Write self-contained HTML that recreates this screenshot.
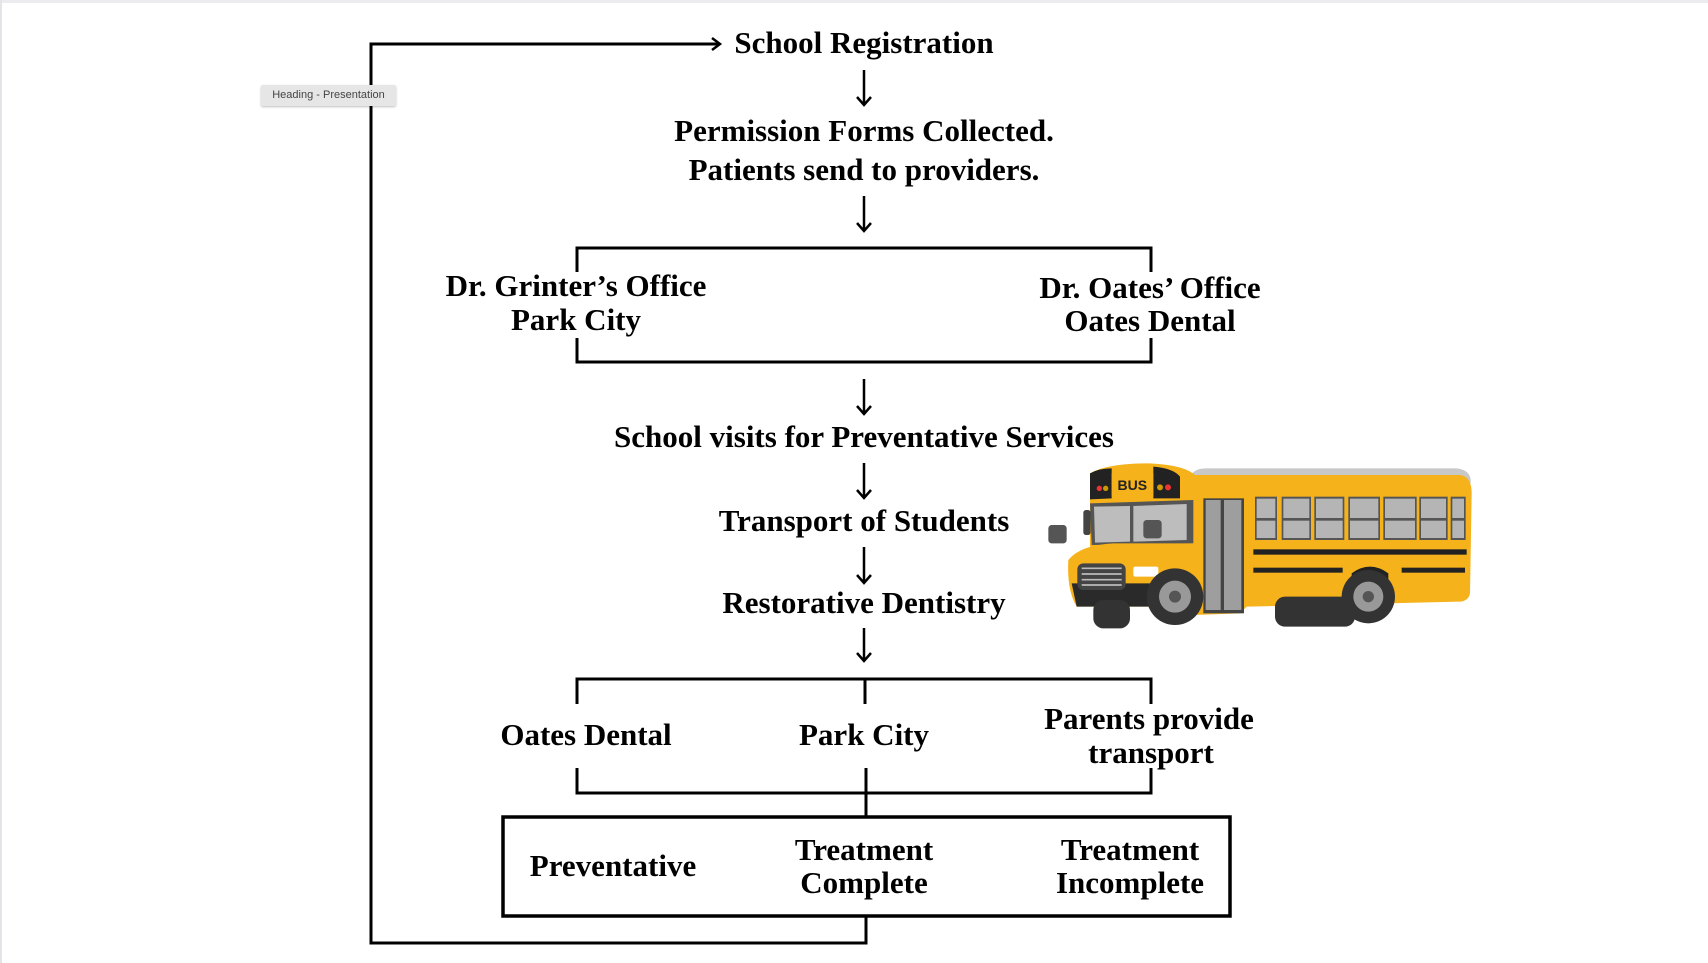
<!DOCTYPE html>
<html><head><meta charset="utf-8"><style>
html,body{margin:0;padding:0;background:#fff;}
body{width:1708px;height:963px;position:relative;overflow:hidden;font-family:"Liberation Serif",serif;font-weight:bold;color:#000;}
.t{position:absolute;transform:translate(-50%,-50%);white-space:nowrap;font-size:31px;text-align:center;line-height:34px;}
.tag{position:absolute;left:261px;top:85px;width:135px;height:21px;background:#e6e6e6;border-radius:2px;box-shadow:0 1px 2px rgba(0,0,0,.25);font:11px "Liberation Sans",sans-serif;color:#444;line-height:21px;text-align:center;}
</style></head><body>
<div style="position:absolute;left:0;top:0;width:1708px;height:3px;background:#ececf0"></div>
<div style="position:absolute;left:0;top:0;width:2px;height:963px;background:#e4e4e8"></div>
<svg width="1708" height="963" style="position:absolute;left:0;top:0" fill="none" stroke="#000" stroke-width="3">
<polyline points="866,916 866,943 371,943 371,44 720,44"/>
<path d="M712,38 L720,44 L712,50" stroke-width="2.5"/>
<g stroke-width="2.5">
<path d="M864,70 V105 M857,97 L864,105 L871,97"/>
<path d="M864,196 V231 M857,223 L864,231 L871,223"/>
<path d="M864,379 V414 M857,406 L864,414 L871,406"/>
<path d="M864,463 V498 M857,490 L864,498 L871,490"/>
<path d="M864,547 V583 M857,575 L864,583 L871,575"/>
<path d="M864,628 V661 M857,653 L864,661 L871,653"/>
</g>
<polyline points="577,272 577,248 1151,248 1151,272"/>
<polyline points="577,338 577,362 1151,362 1151,338"/>
<polyline points="577,704 577,679 1151,679 1151,704"/>
<line x1="865" y1="679" x2="865" y2="704"/>
<polyline points="577,768 577,793 1151,793 1151,768"/>
<line x1="866" y1="768" x2="866" y2="817"/>
<rect x="503" y="817" width="727" height="99" stroke-width="3.5"/>
</svg>
<div class="tag">Heading - Presentation</div>
<div class="t" style="left:864px;top:43px">School Registration</div>
<div class="t" style="left:864px;top:131px">Permission Forms Collected.</div>
<div class="t" style="left:864px;top:170px">Patients send to providers.</div>
<div class="t" style="left:576px;top:286px">Dr. Grinter’s Office</div>
<div class="t" style="left:576px;top:320px">Park City</div>
<div class="t" style="left:1150px;top:288px">Dr. Oates’ Office</div>
<div class="t" style="left:1150px;top:321px">Oates Dental</div>
<div class="t" style="left:864px;top:437px">School visits for Preventative Services</div>
<div class="t" style="left:864px;top:521px">Transport of Students</div>
<div class="t" style="left:864px;top:603px">Restorative Dentistry</div>
<div class="t" style="left:586px;top:735px">Oates Dental</div>
<div class="t" style="left:864px;top:735px">Park City</div>
<div class="t" style="left:1149px;top:719px">Parents provide</div>
<div class="t" style="left:1151px;top:753px">transport</div>
<div class="t" style="left:613px;top:866px">Preventative</div>
<div class="t" style="left:864px;top:850px">Treatment</div>
<div class="t" style="left:864px;top:883px">Complete</div>
<div class="t" style="left:1130px;top:850px">Treatment</div>
<div class="t" style="left:1130px;top:883px">Incomplete</div>
<svg style="position:absolute;left:1040px;top:450px" width="450" height="200" viewBox="0 0 1350 600">
<path d="M450,80 Q460,55 500,55 L1250,55 Q1290,60 1292,90 L1292,100 L460,100Z" fill="#c8c8c8"/>
<path d="M440,75 L1260,75 Q1295,80 1295,130 L1290,430 Q1285,455 1255,455 L620,470 L600,490 L460,495Z" fill="#f5b21b"/>
<path d="M150,70 Q200,40 330,40 Q440,45 470,80 L470,300 L150,290Z" fill="#f5b21b"/>
<path d="M150,70 Q175,55 215,55 L215,145 L150,148Z M340,50 Q400,55 420,80 L420,145 L340,145Z" fill="#222"/>
<rect x="215" y="70" width="125" height="70" fill="#f5b21b"/>
<text x="277" y="120" font-family="Liberation Sans,sans-serif" font-weight="bold" font-size="42" fill="#222" text-anchor="middle">BUS</text>
<circle cx="178" cy="115" r="8" fill="#e33"/><circle cx="197" cy="115" r="8" fill="#c90"/>
<circle cx="360" cy="112" r="9" fill="#c90"/><circle cx="384" cy="112" r="9" fill="#e33"/>
<path d="M150,160 L460,150 L460,280 L155,285Z" fill="#555"/>
<path d="M162,170 L270,168 L270,275 L165,278Z M280,168 L440,162 L440,270 L280,275Z" fill="#bdbdbd"/>
<path d="M85,330 Q120,285 220,280 L470,280 L480,470 L110,470 Q80,420 85,330Z" fill="#f5b21b"/>
<path d="M95,400 L470,400 L470,470 L110,470Z" fill="#2a2a2a"/>
<rect x="112" y="340" width="145" height="80" rx="18" fill="#444"/>
<path d="M125,355 H245 M125,372 H245 M125,389 H245 M125,405 H245" stroke="#bbb" stroke-width="5"/>
<rect x="280" y="350" width="75" height="30" rx="6" fill="#fff"/>
<rect x="25" y="225" width="55" height="55" rx="10" fill="#555"/>
<rect x="130" y="180" width="22" height="75" rx="8" fill="#444"/>
<rect x="310" y="210" width="55" height="55" rx="10" fill="#555"/>
<rect x="490" y="145" width="122" height="345" fill="#444"/>
<rect x="497" y="150" width="45" height="330" fill="#9e9e9e"/><rect x="552" y="150" width="52" height="330" fill="#9e9e9e"/>
<g fill="#555">
<rect x="645" y="140" width="66" height="130"/><rect x="725" y="140" width="88" height="130"/><rect x="823" y="140" width="90" height="130"/><rect x="925" y="140" width="95" height="130"/><rect x="1030" y="140" width="100" height="130"/><rect x="1138" y="140" width="85" height="130"/><rect x="1232" y="140" width="45" height="130"/>
</g>
<g fill="#b5b5b5">
<rect x="650" y="146" width="56" height="58"/><rect x="650" y="212" width="56" height="52"/>
<rect x="730" y="146" width="78" height="58"/><rect x="730" y="212" width="78" height="52"/>
<rect x="828" y="146" width="80" height="58"/><rect x="828" y="212" width="80" height="52"/>
<rect x="930" y="146" width="85" height="58"/><rect x="930" y="212" width="85" height="52"/>
<rect x="1035" y="146" width="90" height="58"/><rect x="1035" y="212" width="90" height="52"/>
<rect x="1143" y="146" width="75" height="58"/><rect x="1143" y="212" width="75" height="52"/>
<rect x="1237" y="146" width="35" height="58"/><rect x="1237" y="212" width="35" height="52"/>
</g>
<rect x="640" y="298" width="640" height="16" fill="#222"/>
<rect x="640" y="353" width="268" height="15" fill="#222"/>
<rect x="1085" y="353" width="190" height="15" fill="#222"/>
<rect x="160" y="450" width="110" height="85" rx="30" fill="#333"/>
<rect x="705" y="440" width="240" height="90" rx="30" fill="#333"/>
<circle cx="405" cy="440" r="85" fill="#333"/><circle cx="405" cy="440" r="48" fill="#999"/><circle cx="405" cy="440" r="18" fill="#555"/>
<path d="M935,370 Q990,330 1045,370 L1045,470 L935,470Z" fill="#222"/>
<circle cx="985" cy="440" r="80" fill="#333"/><circle cx="985" cy="440" r="45" fill="#999"/><circle cx="985" cy="440" r="17" fill="#555"/>
</svg>
</body></html>
